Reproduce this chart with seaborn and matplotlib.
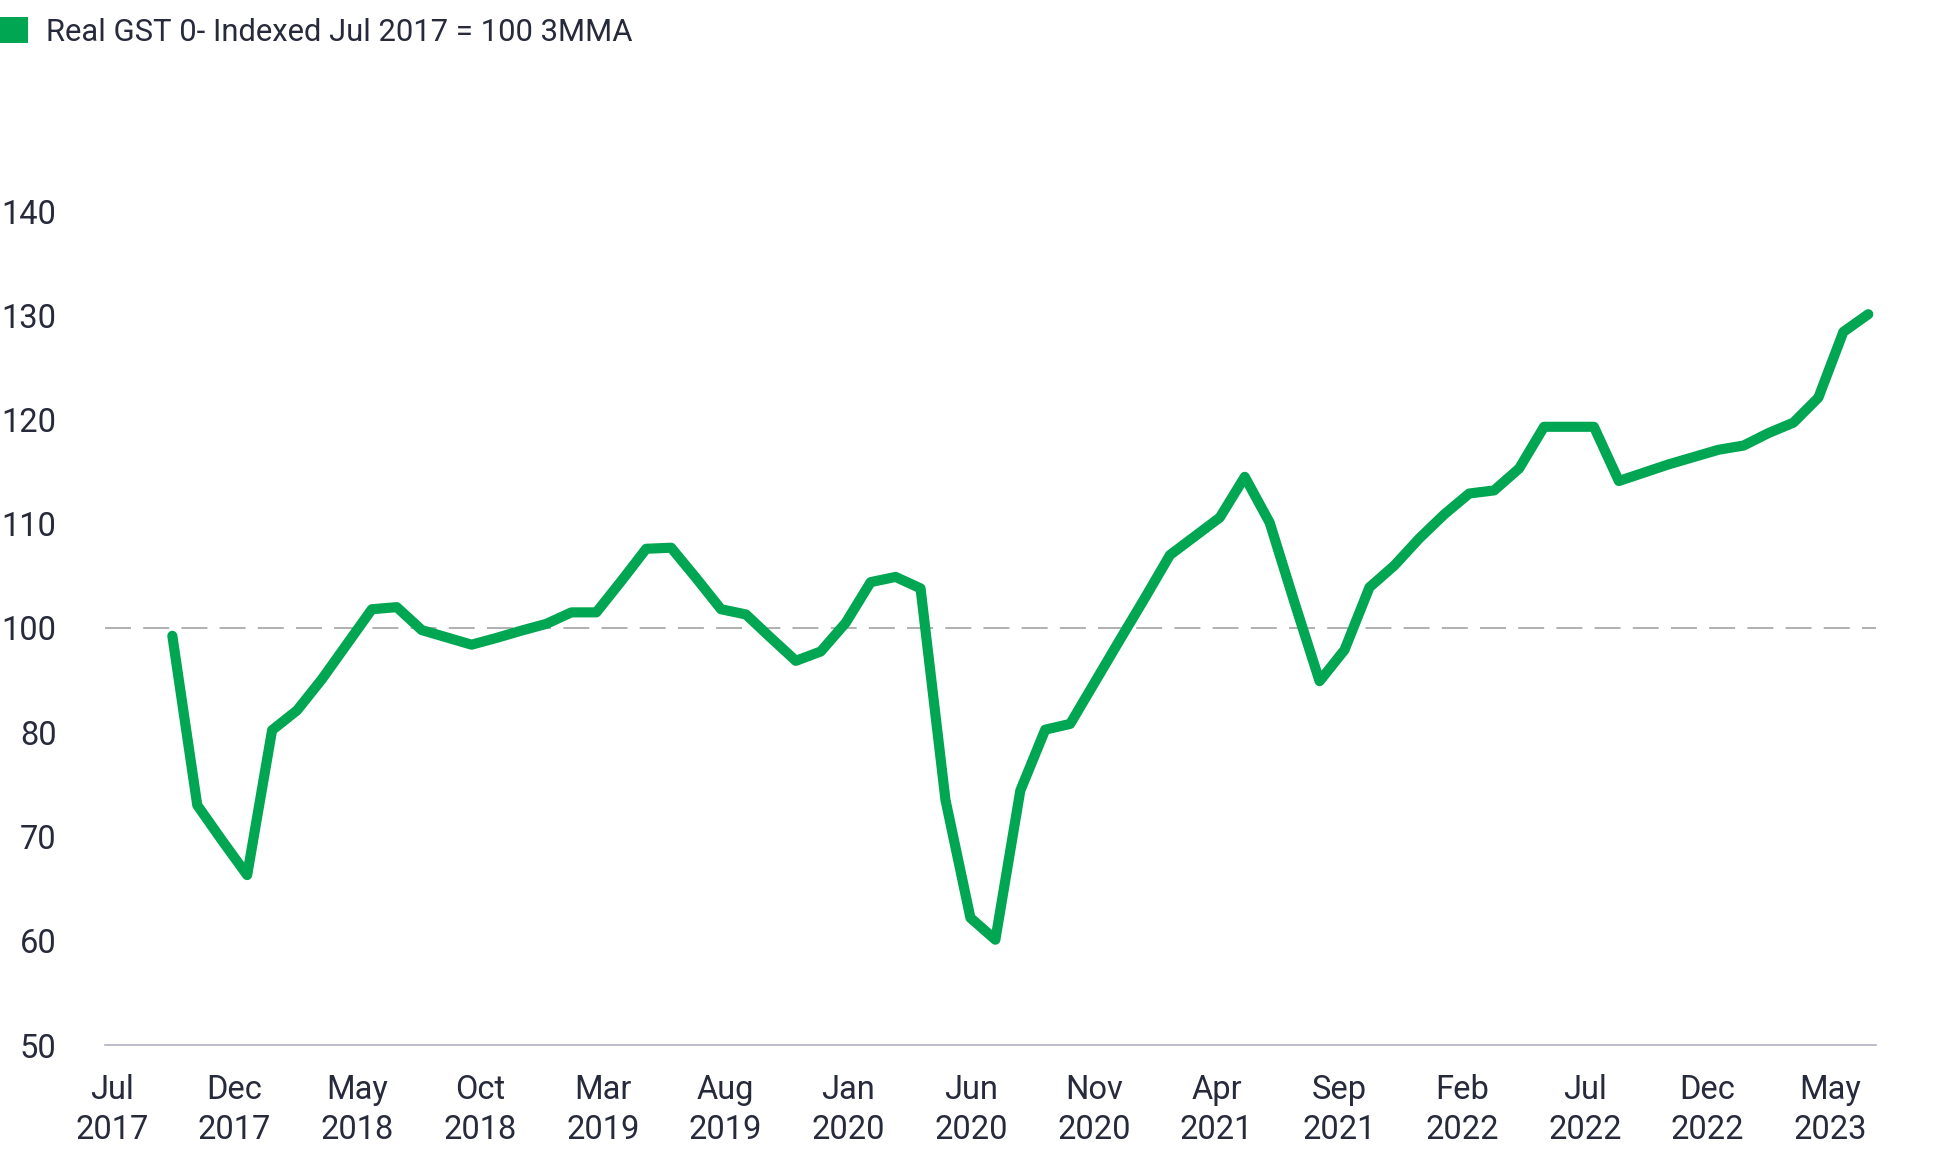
import numpy as np
import pandas as pd
import seaborn as sns
import matplotlib
import matplotlib.pyplot as plt
from matplotlib.patches import Patch

# Use a non-interactive backend
matplotlib.use('Agg')

# Real GST index (Jul 2017 = 100), 3-month moving average, Sep 2017 - May 2023
months = pd.date_range("2017-09-01", periods=69, freq="MS")
gst_3mma = [
    98.5, 73.0, 69.6, 66.3, 80.4, 84.2, 90.2, 96.9, 101.8, 102.0,
    99.6, 98.2, 96.8, 98.1, 99.5, 100.4, 101.5, 101.5, 104.5, 107.6,
    107.7, 104.8, 101.8, 101.3, 98.1, 93.7, 95.5, 100.5, 104.4, 104.9,
    103.8, 73.5, 62.2, 60.1, 74.4, 80.5, 81.6, 89.7, 97.8, 102.9,
    107.0, 108.8, 110.6, 114.5, 110.1, 102.4, 89.8, 95.8, 103.9, 106.0,
    108.6, 110.9, 112.9, 113.2, 115.3, 119.3, 119.3, 119.3, 114.1, 114.9,
    115.7, 116.4, 117.1, 117.5, 118.7, 119.7, 122.1, 128.4, 130.1,
]

# Axis labels as printed on the chart
x_tick_labels = ["Jul\n2017", "Dec\n2017", "May\n2018", "Oct\n2018", "Mar\n2019",
                 "Aug\n2019", "Jan\n2020", "Jun\n2020", "Nov\n2020", "Apr\n2021",
                 "Sep\n2021", "Feb\n2022", "Jul\n2022", "Dec\n2022", "May\n2023"]
y_tick_values = [50, 60, 70, 80, 100, 110, 120, 130, 140]
reference_level = 100

series_name = "Real GST 0- Indexed Jul 2017 = 100 3MMA"
green = "#00a651"
text_color = "#262a3b"

df = pd.DataFrame({"month": months, "value": gst_3mma})
df["pos"] = np.arange(len(df))

# The value axis is compressed between 80 and 100 (one tick step covers 20)
seg_val = [50, 80, 100, 140]
seg_pos = [50, 80, 90, 130]


def fwd(y):
    return np.interp(y, seg_val, seg_pos)


def inv(p):
    return np.interp(p, seg_pos, seg_val)


sns.set_style("white")
plt.rcParams['font.family'] = ['Roboto', 'DejaVu Sans']

fig, ax = plt.subplots(figsize=(19.38, 11.63), dpi=100)
fig.subplots_adjust(left=105 / 1938, right=1876 / 1938,
                    bottom=118 / 1163, top=1 - 211 / 1163)

ax.set_yscale("function", functions=(fwd, inv))

ax.axhline(reference_level, color="#9b9b9b", lw=1.1, dashes=(17, 8), zorder=1)

sns.lineplot(data=df, x="pos", y="value", ax=ax, color=green, lw=7.3,
             solid_joinstyle="round", solid_capstyle="round", zorder=3)

ax.set_ylim(50, 140)
ax.set_xlim(-2.70, 68.31)
ax.set_yticks(y_tick_values)
ax.set_yticklabels([str(v) for v in y_tick_values])
ax.set_xticks(np.linspace(-2.43, 66.48, len(x_tick_labels)))
ax.set_xticklabels(x_tick_labels, linespacing=1.3)
ax.set_xlabel("")
ax.set_ylabel("")

ax.tick_params(axis="both", length=0, labelsize=23.5, labelcolor=text_color)
ax.tick_params(axis="y", pad=35)
ax.tick_params(axis="x", pad=21)

for side in ["top", "right", "left"]:
    ax.spines[side].set_visible(False)
ax.spines["bottom"].set_color("#a9a9bc")
ax.spines["bottom"].set_linewidth(1.1)
ax.grid(False)

handle = Patch(facecolor=green, edgecolor="none")
fig.legend([handle], [series_name], loc="upper left", bbox_to_anchor=(0, 1 - 17 / 1163),
           frameon=False, fontsize=22.3, labelcolor=text_color,
           handlelength=0.9, handleheight=0.9, handletextpad=0.6,
           borderpad=0, borderaxespad=0)

plt.savefig("out.png", dpi=100)
plt.close()
